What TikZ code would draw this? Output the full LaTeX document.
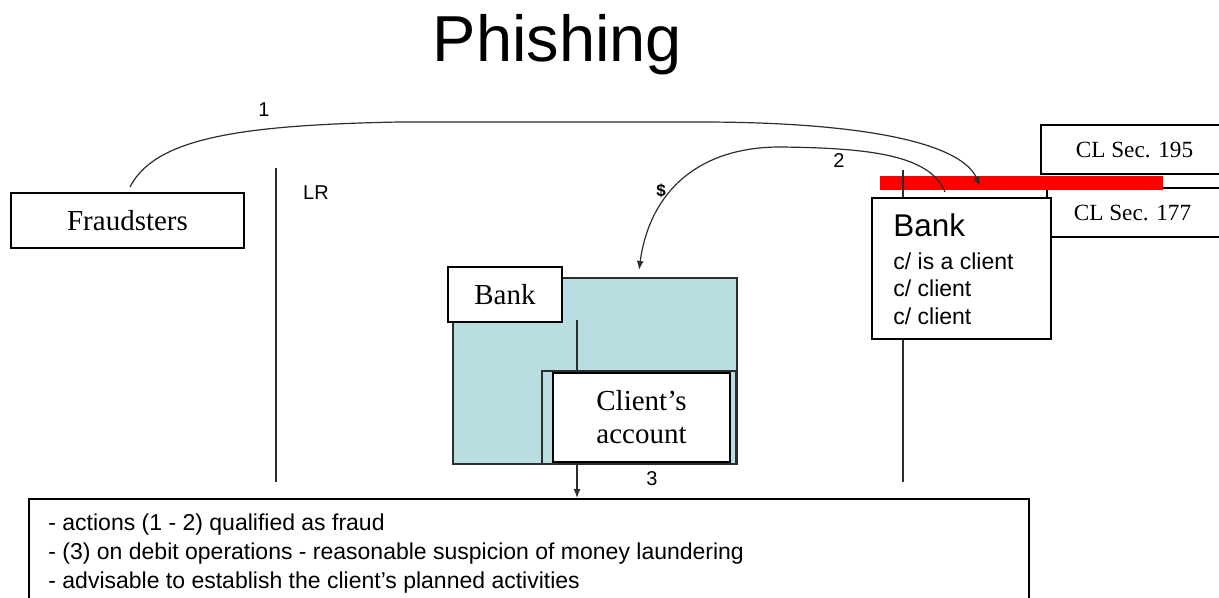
\documentclass[tikz,border=0pt]{standalone}
\usepackage{fontspec}
\setmainfont{Liberation Serif}
\newfontfamily\arial{Liberation Sans}
\usetikzlibrary{arrows.meta}
\definecolor{boxblue}{RGB}{185,222,226}
\definecolor{linegray}{RGB}{45,45,45}
\begin{document}
\begin{tikzpicture}[x=0.5pt,y=-0.5pt,
  serifbox/.style={draw=black, line width=1pt, fill=white, inner sep=0pt,
    font=\fontsize{14.5}{16.5}\selectfont},
  clbox/.style={serifbox, font=\fontsize{11.6}{13}\selectfont},
  plainbox/.style={draw=black, line width=1pt, fill=white, inner sep=0pt},
  bluebox/.style={draw=linegray, line width=0.9pt, fill=boxblue, inner sep=0pt, anchor=north west},
  connector/.style={draw=linegray, line width=0.6pt, -{Latex[length=4.5pt,width=3.5pt]}},
  vline/.style={draw=linegray, line width=1pt},
  lbl/.style={inner sep=0pt, font=\arial\fontsize{10}{12}\selectfont},
  banktitle/.style={inner sep=0pt, anchor=base west, font=\arial\fontsize{15.7}{18}\selectfont},
  banktxt/.style={inner sep=0pt, anchor=base west, font=\arial\fontsize{11.5}{13.5}\selectfont},
  notetxt/.style={inner sep=0pt, anchor=base west, font=\arial\fontsize{11.5}{14}\selectfont}]
\useasboundingbox (0,0) rectangle (1219,598);

% title
\node[inner sep=0pt, anchor=base, font=\arial\fontsize{32.5}{38}\selectfont] (title) at (557.5,62) {Phishing};

% bottom notes box
\node[plainbox, anchor=north west, minimum width=500pt, minimum height=65pt] (notes) at (28,498) {};
\node[notetxt] (n1) at (48,530) {- actions (1 - 2) qualified as fraud};
\node[notetxt] (n2) at (48,559) {- (3) on debit operations - reasonable suspicion of money laundering};
\node[notetxt] (n3) at (48,588) {- advisable to establish the client’s planned activities};

% vertical separators
\coordinate (v1t) at (276,168);
\coordinate (v1b) at (276,482);
\draw[vline] (v1t) -- (v1b);

% law boxes and red bar
\node[clbox, minimum width=93.5pt, minimum height=24.5pt] (cl195) at (1134.5,149.5) {CL Sec. 195};
\node[clbox, minimum width=90.5pt, minimum height=24.5pt] (cl177) at (1137.5,212.5) {\hspace*{-5pt}CL Sec. 177};
\node[fill=red, inner sep=0pt, anchor=north west, minimum width=141.5pt, minimum height=7pt] (redbar) at (880,176) {};

\coordinate (v2t) at (903,170);
\coordinate (v2b) at (903,482);
\draw[vline] (v2t) -- (v2b);

% right bank box
\node[plainbox, minimum width=89.5pt, minimum height=70.5pt] (bankR) at (961.5,268.5) {};
\node[banktitle] (bankRt) at (893,237) {Bank};
\node[banktxt] (bankR1) at (893,270) {c/ is a client};
\node[banktxt] (bankR2) at (893,297) {c/ client};
\node[banktxt] (bankR3) at (893,324) {c/ client};

% blue bank area
\node[bluebox, minimum width=142pt, minimum height=93pt] (bluebig) at (452,277) {};
\node[bluebox, minimum width=97pt, minimum height=46.5pt] (blueinner) at (541,370) {};

% arrow 3
\coordinate (a3) at (577,320);
\draw[connector] (a3) -- (a3 |- notes.north);

\node[serifbox, minimum width=57pt, minimum height=27.5pt] (bankC) at (505,294.5) {Bank};
\node[serifbox, minimum width=88.5pt, minimum height=44.5pt, align=center] (client) at (641.5,417.5) {Client’s\\account};

% fraudsters
\node[serifbox, minimum width=116.5pt, minimum height=27.5pt] (fraud) at (127.5,220.5) {Fraudsters};

% curve 1
\coordinate (c1s) at (130,187);
\coordinate (c1e) at (980,186);
\draw[connector] (c1s) .. controls (155,138) and (240,125) .. (400,122) -- (700,122)
   .. controls (850,122) and (960,140) .. (c1e);

% curve 2
\coordinate (c2s) at (945,192);
\draw[connector] (c2s) .. controls (930,155) and (870,148) .. (780,147)
   .. controls (700,147) and (650,190) .. (639,270);

% labels
\node[lbl] (l1) at (264,110) {1};
\node[lbl] (l2) at (839,161) {2};
\node[lbl, font=\arial\bfseries\fontsize{8.5}{10}\selectfont] (ldollar) at (661,191) {\$};
\node[lbl] (l3) at (652,479) {3};
\node[lbl] (lLR) at (316,193) {LR};
\end{tikzpicture}
\end{document}
